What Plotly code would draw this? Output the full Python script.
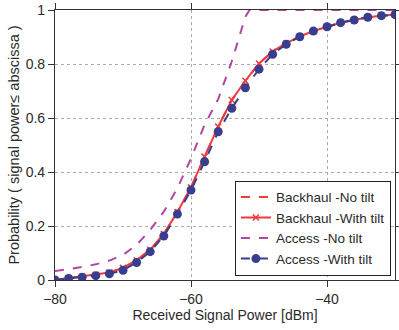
import plotly.graph_objects as go

x_power = [-80, -78, -76, -74, -72, -70, -68, -66, -64, -62, -60, -58, -56,
           -54, -52, -50, -48, -46, -44, -42, -40, -38, -36, -34, -32, -30]

backhaul_tilt = [0.0, 0.007, 0.012, 0.019, 0.028, 0.045, 0.073, 0.112, 0.17, 0.252,
                 0.343, 0.457, 0.568, 0.667, 0.738, 0.802, 0.846, 0.876, 0.902, 0.922,
                 0.938, 0.953, 0.963, 0.973, 0.979, 0.983]
backhaul_notilt = list(backhaul_tilt)

access_tilt = [0.0, 0.006, 0.010, 0.016, 0.023, 0.036, 0.065, 0.105, 0.163, 0.244,
               0.333, 0.438, 0.549, 0.636, 0.712, 0.781, 0.836, 0.873, 0.901, 0.922,
               0.938, 0.953, 0.963, 0.973, 0.979, 0.983]

x_access_notilt = [-80, -78, -76, -74, -72, -70, -68, -66, -64, -62, -60, -58, -56,
                   -54, -52, -51.4, -30]
access_notilt = [0.033, 0.040, 0.048, 0.058, 0.072, 0.093, 0.13, 0.185, 0.253, 0.34,
                 0.45, 0.575, 0.67, 0.81, 0.975, 1.0, 1.0]

RED = "#EE3B3B"
MAG = "#B0489F"
BLUE = "#383D8E"
TXT = "#2A2A2A"

fig = go.Figure()
fig.add_trace(go.Scatter(x=x_power, y=backhaul_notilt, mode="lines",
                         name="Backhaul -No tilt",
                         line=dict(color=RED, width=2, dash="dash")))
fig.add_trace(go.Scatter(x=x_power, y=backhaul_tilt, mode="lines+markers",
                         name="Backhaul -With tilt",
                         line=dict(color=RED, width=2),
                         marker=dict(symbol="x-thin", size=6, color=RED,
                                     line=dict(color=RED, width=1.5))))
fig.add_trace(go.Scatter(x=x_access_notilt, y=access_notilt, mode="lines",
                         name="Access -No tilt",
                         line=dict(color=MAG, width=2, dash="dash")))
fig.add_trace(go.Scatter(x=x_power, y=access_tilt, mode="lines+markers",
                         name="Access -With tilt",
                         line=dict(color=BLUE, width=2, dash="dash"),
                         marker=dict(symbol="circle", size=9, color=BLUE)))

axis_common = dict(showline=True, linecolor="#333333", linewidth=1.2, mirror="ticks",
                   ticks="outside", ticklen=6, tickcolor="#333333",
                   showgrid=True, gridcolor="#AAAAAA", griddash="dot", gridwidth=1,
                   zeroline=False, automargin=False,
                   tickfont=dict(size=14, color=TXT))

fig.update_xaxes(range=[-80, -30], tickvals=[-80, -60, -40],
                 title=dict(text="Received Signal Power [dBm]", font=dict(size=14, color=TXT),
                            standoff=2),
                 **axis_common)
fig.update_yaxes(range=[0, 1], tickvals=[0, 0.2, 0.4, 0.6, 0.8, 1],
                 ticktext=["0", "0.2", "0.4", "0.6", "0.8", "1"],
                 title=dict(text="Probability ( signal power\u2264 abscissa )",
                            font=dict(size=14.5, color=TXT), standoff=2),
                 **axis_common)

fig.update_layout(
    width=399, height=330,
    margin=dict(l=55, r=4, t=10, b=50),
    paper_bgcolor="white", plot_bgcolor="white",
    font=dict(family="Arial, Liberation Sans, sans-serif", color=TXT),
    legend=dict(x=0.988, y=0.016, xanchor="right", yanchor="bottom",
                bgcolor="white", bordercolor="#222222", borderwidth=1,
                font=dict(size=13.5, color=TXT),
                tracegroupgap=0, itemwidth=30),
    showlegend=True,
)

fig.write_html("out.html", config={"displayModeBar": False},
               post_script="document.body.style.margin='0';")
